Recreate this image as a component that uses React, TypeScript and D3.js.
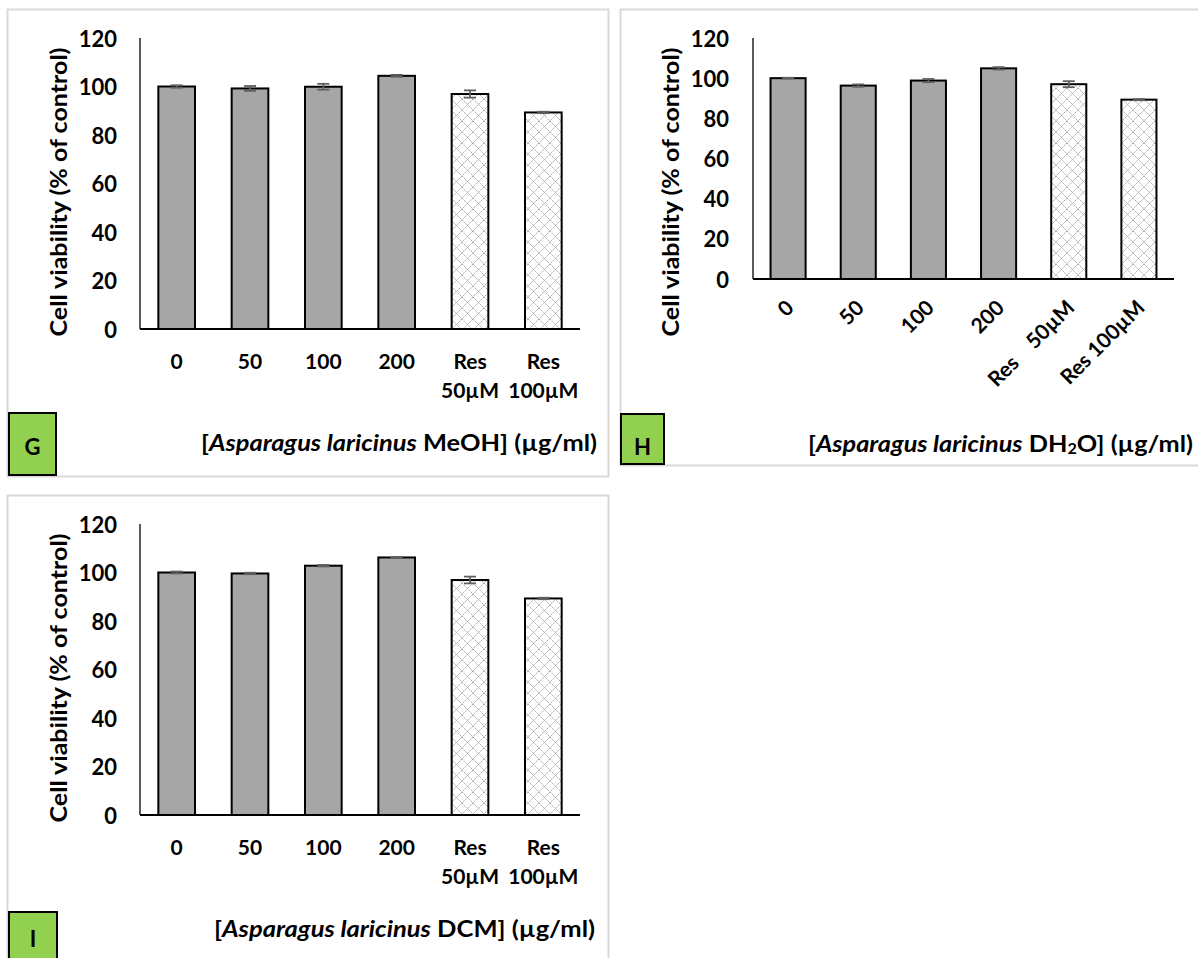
import React from 'react';
import * as d3 from 'd3';

// x categories (two-line form used by G and I, one-line rotated form used by H)
const categoryLines = [["0"], ["50"], ["100"], ["200"], ["Res", "50µM"], ["Res", "100µM"]];
const rotatedLabels = ["0", "50", "100", "200", "Res    50µM", "Res 100µM"];
const yTicks = [0, 20, 40, 60, 80, 100, 120];

// cell viability (% of control)
const meohValues = [100.0, 99.2, 99.9, 104.4, 96.9, 89.3];
const meohErrors = [0.5, 1.0, 1.2, 0.4, 1.5, 0.3];
const dh2oValues = [100.0, 96.3, 98.8, 104.9, 97.0, 89.3];
const dh2oErrors = [0.2, 0.6, 0.8, 0.6, 1.5, 0.3];
const dcmValues = [100.0, 99.6, 102.8, 106.2, 96.9, 89.3];
const dcmErrors = [0.4, 0.3, 0.3, 0.2, 1.4, 0.3];

// the two resveratrol controls get the lattice pattern
const patterned = [false, false, false, false, true, true];

const FONT = "Lato, 'Open Sans', sans-serif";

type PanelProps = {
    letter: string
    letterY: number
    values: number[]
    errors: number[]
    x0: number
    x1: number
    yTop: number
    yBottom: number
    tickRight: number
    yLabelX: number
    yLabelY: number
    rotated: boolean
    extract: React.ReactNode
    titleRight: number
    titleY: number
    titleLen: number
    border: { x: number, y: number, w: number, h: number }
    box: { x: number, y: number, w: number, h: number }
}

const Panel = (p: PanelProps) => {
    const x = d3.scaleBand<number>()
        .domain(d3.range(p.values.length))
        .range([p.x0, p.x1])
        .paddingInner(0.5)
        .paddingOuter(0.25)
    const y = d3.scaleLinear().domain([0, 120]).range([p.yBottom, p.yTop])
    const bw = x.bandwidth()
    const cap = 6

    return (
        <g>
            <rect x={p.border.x} y={p.border.y} width={p.border.w} height={p.border.h}
                fill="white" stroke="#d9d9d9" strokeWidth={2} />

            {/* bars */}
            {p.values.map((v, i) => (
                <rect key={"b" + i} x={x(i)} y={y(v)} width={bw} height={y(0) - y(v)}
                    fill={patterned[i] ? "url(#lattice)" : "#a6a6a6"}
                    stroke="#000" strokeWidth={2} />
            ))}

            {/* error bars */}
            {p.values.map((v, i) => {
                const cx = (x(i) as number) + bw / 2
                const hi = y(v + p.errors[i]), lo = y(v - p.errors[i])
                return (
                    <g key={"e" + i} stroke="#606060" strokeWidth={1.8}>
                        <line x1={cx} x2={cx} y1={hi} y2={lo} />
                        <line x1={cx - cap} x2={cx + cap} y1={hi} y2={hi} />
                        <line x1={cx - cap} x2={cx + cap} y1={lo} y2={lo} />
                    </g>
                )
            })}

            {/* axes */}
            <line x1={p.x0} x2={p.x0} y1={p.yTop} y2={p.yBottom} stroke="#000" strokeWidth={1.3} />
            <line x1={p.x0} x2={p.x1} y1={p.yBottom} y2={p.yBottom} stroke="#000" strokeWidth={2} />

            {yTicks.map(t => (
                <text key={"yt" + t} x={p.tickRight} y={y(t)} textAnchor="end" dominantBaseline="central"
                    fontFamily={FONT} fontWeight="bold" fontSize={22}>{t}</text>
            ))}

            {p.rotated
                ? rotatedLabels.map((lab, i) => {
                    const cx = (x(i) as number) + bw / 2
                    return (
                        <text key={"xt" + i} transform={`translate(${cx + 1},${p.yBottom + 24}) rotate(-45)`}
                            textAnchor="end" dominantBaseline="central" style={{ whiteSpace: "pre" }}
                            fontFamily={FONT} fontWeight="bold" fontSize={21}>{lab}</text>
                    )
                })
                : categoryLines.map((lines, i) => {
                    const cx = (x(i) as number) + bw / 2
                    return (
                        <text key={"xt" + i} x={cx} textAnchor="middle" dominantBaseline="central"
                            fontFamily={FONT} fontWeight="bold" fontSize={21}>
                            {lines.map((ln, k) => (
                                <tspan key={k} x={cx} y={p.yBottom + 31 + k * 29}>{ln}</tspan>
                            ))}
                        </text>
                    )
                })}

            <text transform={`translate(${p.yLabelX},${p.yLabelY}) rotate(-90)`} textAnchor="middle"
                dominantBaseline="central" fontFamily={FONT} fontWeight="bold" fontSize={23.5}
                textLength={289} lengthAdjust="spacingAndGlyphs">
                Cell viability (% of control)
            </text>

            <text x={p.titleRight} y={p.titleY} textAnchor="end" dominantBaseline="central"
                fontFamily={FONT} fontWeight="bold" fontSize={23.5}
                textLength={p.titleLen} lengthAdjust="spacingAndGlyphs">
                [<tspan fontStyle="italic">Asparagus laricinus</tspan> {p.extract}] (µg/ml)
            </text>

            <rect x={p.box.x} y={p.box.y} width={p.box.w} height={p.box.h}
                fill="#92d050" stroke="#000" strokeWidth={2} />
            <text x={p.box.x + p.box.w / 2} y={p.letterY} textAnchor="middle" dominantBaseline="central"
                fontFamily={FONT} fontWeight="bold" fontSize={22}>{p.letter}</text>
        </g>
    )
}

export default function App() {
    return (
        <svg width={1198} height={958} style={{ position: "absolute", left: 0, top: 0, display: "block" }}>
            <defs>
                <pattern id="lattice" patternUnits="userSpaceOnUse" width={11} height={11}>
                    <rect width={11} height={11} fill="white" />
                    <path d="M0,0 L11,11 M11,0 L0,11" stroke="#a8a8a8" strokeWidth={1} strokeDasharray="2,1" />
                </pattern>
            </defs>
            <rect width={1198} height={958} fill="white" />

            <Panel letter="G" letterY={446} values={meohValues} errors={meohErrors}
                x0={140} x1={580} yTop={38} yBottom={329} tickRight={117}
                yLabelX={58} yLabelY={192} rotated={false}
                extract="MeOH" titleRight={597} titleY={442} titleLen={396}
                border={{ x: 7.5, y: 9.5, w: 601, h: 467 }}
                box={{ x: 9, y: 413, w: 47, h: 62 }} />

            <Panel letter="H" letterY={446} values={dh2oValues} errors={dh2oErrors}
                x0={753} x1={1174} yTop={38} yBottom={279} tickRight={729}
                yLabelX={670} yLabelY={192} rotated={true}
                extract={<>DH<tspan fontSize={15} dy={5}>2</tspan><tspan dy={-5}>O</tspan></>}
                titleRight={1193} titleY={443} titleLen={385}
                border={{ x: 620.5, y: 9.5, w: 600, h: 456 }}
                box={{ x: 621, y: 414, w: 43, h: 50 }} />

            <Panel letter="I" letterY={938} values={dcmValues} errors={dcmErrors}
                x0={140} x1={580} yTop={524} yBottom={815} tickRight={117}
                yLabelX={58} yLabelY={678} rotated={false}
                extract="DCM" titleRight={595} titleY={928} titleLen={381}
                border={{ x: 7.5, y: 495.5, w: 601, h: 500 }}
                box={{ x: 9, y: 912, w: 48, h: 60 }} />
        </svg>
    )
}
